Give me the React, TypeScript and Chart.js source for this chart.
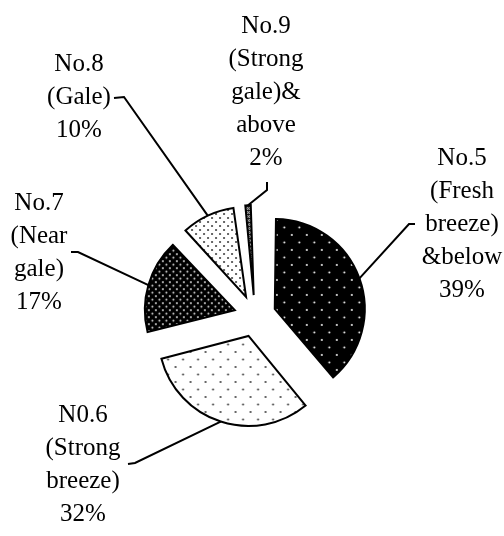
import React, { useEffect, useRef } from "react";
import { Chart, registerables } from "chart.js";

Chart.register(...registerables);

// ---- data ----
const categories = [
  "No.5 (Fresh breeze) &below",
  "N0.6 (Strong breeze)",
  "No.7 (Near gale)",
  "No.8 (Gale)",
  "No.9 (Strong gale)& above",
];
const labelLines = [
  ["No.5", "(Fresh", "breeze)", "&below"],
  ["N0.6", "(Strong", "breeze)"],
  ["No.7", "(Near", "gale)"],
  ["No.8", "(Gale)"],
  ["No.9", "(Strong", "gale)&", "above"],
];
const shares = [39, 32, 17, 10, 2];

// ---- layout (relative to pie centre) ----
const RADIUS = 90;
const EXPLODE = 21;
const LINE_H = 33;
const labelCenters = [
  [207, -92],
  [-172, 149],
  [-216, -63.5],
  [-176, -218.5],
  [11, -224],
];
const leaderStart = [
  [160, -92],
  [-127, 148],
  [-184, -64],
  [-141, -218],
  [12, -134],
];
const leaderElbow = [
  [154, -92],
  [-120, 147],
  [-177, -64],
  [-131, -219],
  [12, -126],
];

function makePattern(
  size: number,
  bg: string,
  fg: string,
  dots: number[][],
  r: number
): CanvasPattern | string {
  const c = document.createElement("canvas");
  c.width = size;
  c.height = size;
  const g = c.getContext("2d")!;
  g.fillStyle = bg;
  g.fillRect(0, 0, size, size);
  g.fillStyle = fg;
  dots.forEach(([x, y]) => {
    g.beginPath();
    g.arc(x, y, r, 0, Math.PI * 2);
    g.fill();
  });
  const p = g.createPattern(c, "repeat");
  return p || bg;
}

function makeCross(): CanvasPattern | string {
  const c = document.createElement("canvas");
  c.width = 4;
  c.height = 4;
  const g = c.getContext("2d")!;
  g.fillStyle = "#111";
  g.fillRect(0, 0, 4, 4);
  g.fillStyle = "#e0e0e0";
  [[0, 0], [2, 0], [1, 1], [3, 1], [0, 2], [2, 2]].forEach(([x, y]) => g.fillRect(x, y, 1, 1));
  return g.createPattern(c, "repeat") || "#666";
}

const annotate = {
  id: "annotate",
  beforeDatasetsDraw(chart: any) {
    const meta = chart.getDatasetMeta(0);
    meta.data.forEach((arc: any) => {
      const fix = 1 - Math.sin(Math.min(Math.PI, arc.circumference));
      arc.outerRadius = RADIUS - EXPLODE * fix;
    });
  },
  afterDatasetsDraw(chart: any) {
    const ctx = chart.ctx as CanvasRenderingContext2D;
    const meta = chart.getDatasetMeta(0);
    ctx.save();
    ctx.strokeStyle = "#000";
    ctx.lineWidth = 2;
    ctx.lineJoin = "miter";
    ctx.fillStyle = "#000";
    ctx.font = "25px 'Liberation Serif', 'Times New Roman', serif";
    ctx.textAlign = "center";
    ctx.textBaseline = "middle";
    meta.data.forEach((arc: any, i: number) => {
      const cx = arc.x;
      const cy = arc.y;
      const mid = (arc.startAngle + arc.endAngle) / 2;
      const ex = cx + Math.cos(mid) * (EXPLODE + RADIUS);
      const ey = cy + Math.sin(mid) * (EXPLODE + RADIUS);
      ctx.beginPath();
      ctx.moveTo(cx + leaderStart[i][0], cy + leaderStart[i][1]);
      ctx.lineTo(cx + leaderElbow[i][0], cy + leaderElbow[i][1]);
      ctx.lineTo(ex, ey);
      ctx.stroke();

      const lines = [...labelLines[i], `${shares[i]}%`];
      const lx = cx + labelCenters[i][0];
      const ly0 = cy + labelCenters[i][1] - ((lines.length - 1) * LINE_H) / 2;
      lines.forEach((t, k) => ctx.fillText(t, lx, ly0 + k * LINE_H));
    });
    ctx.restore();
  },
};

export default function App() {
  const ref = useRef<HTMLCanvasElement | null>(null);
  useEffect(() => {
    if (!ref.current) return;
    const fills = [
      makePattern(15, "#000", "#fff", [[2, 2], [9.5, 9.5]], 1.0),
      makePattern(15, "#fff", "#222", [[2, 2], [9.5, 9.5]], 0.9),
      makePattern(7, "#000", "#ddd", [[1, 1], [4.5, 4.5]], 1.0),
      makePattern(8, "#fff", "#333", [[1, 1], [5, 5]], 1.0),
      makeCross(),
    ];
    const chart = new Chart(ref.current, {
      type: "pie",
      data: {
        labels: categories,
        datasets: [
          {
            data: shares,
            backgroundColor: fills as any,
            borderColor: "#000",
            borderWidth: 2,
            borderJoinStyle: "miter",
            offset: EXPLODE * 4,
            hoverOffset: 0,
          } as any,
        ],
      },
      options: {
        responsive: false,
        animation: false,
        radius: RADIUS,
        layout: { padding: { left: 6, right: 0, top: 96, bottom: 0 } },
        plugins: {
          legend: { display: false },
          tooltip: { enabled: false },
        },
      } as any,
      plugins: [annotate],
    });
    return () => chart.destroy();
  }, []);
  return (
    <div style={{ position: "absolute", left: 0, top: 0, width: 504, height: 536, background: "#fff" }}>
      <canvas ref={ref} width={504} height={536} style={{ display: "block" }} />
    </div>
  );
}
